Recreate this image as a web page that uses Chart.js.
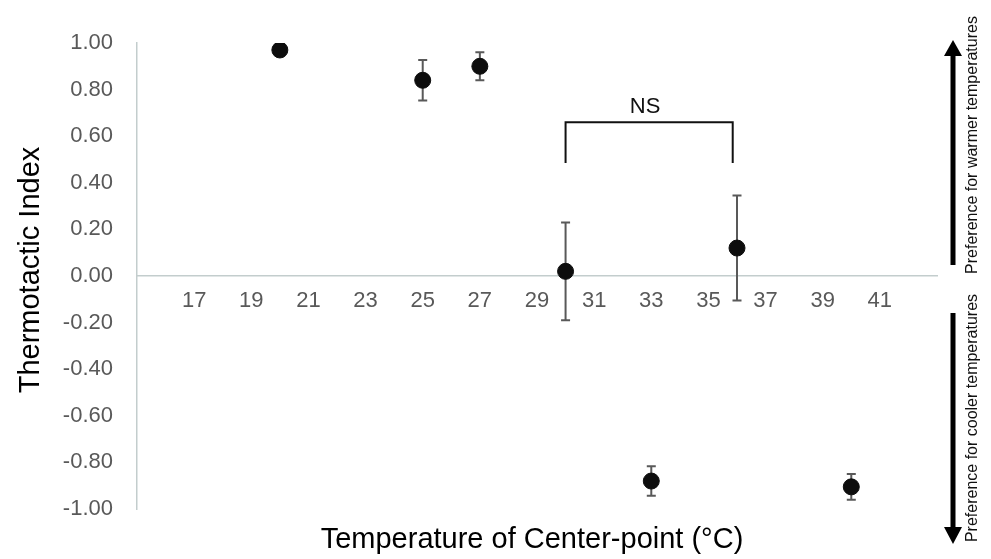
<!DOCTYPE html>
<html>
<head>
<meta charset="utf-8">
<script src="https://cdn.jsdelivr.net/npm/chart.js@4"></script>
<style>
  html, body { margin: 0; padding: 0; background: #fff; }
  #wrap { width: 991px; height: 559px; position: relative; }
</style>
</head>
<body>
<div id="wrap"><canvas id="thermoChart"></canvas></div>
<script>
// Thermotactic index by center-point temperature
const temps = [20, 25, 27, 30, 33, 36, 40];
const indexValues = [0.97, 0.84, 0.90, 0.02, -0.88, 0.12, -0.905];
const errors = [0.01, 0.087, 0.06, 0.21, 0.063, 0.225, 0.055];
const xTicksHidden = [15, 43];
const bracketX = [30, 35.85];
const bracketY = [0.66, 0.485];
const bracketLabel = 'NS';

const FONT = '"Liberation Sans", Arial, sans-serif';
const GRAY = '#595959';
const AXIS = '#c3cdcd';

const errorBars = {
    id: 'errorBars',
    beforeDatasetsDraw(chart) {
        const ctx = chart.ctx;
        const xs = chart.scales.x, ys = chart.scales.y;
        ctx.save();
        ctx.strokeStyle = GRAY;
        ctx.lineWidth = 2;
        temps.forEach((t, i) => {
            const px = xs.getPixelForValue(t);
            const top = ys.getPixelForValue(indexValues[i] + errors[i]);
            const bot = ys.getPixelForValue(indexValues[i] - errors[i]);
            ctx.beginPath();
            ctx.moveTo(px, top); ctx.lineTo(px, bot);
            ctx.moveTo(px - 4.5, top); ctx.lineTo(px + 4.5, top);
            ctx.moveTo(px - 4.5, bot); ctx.lineTo(px + 4.5, bot);
            ctx.stroke();
        });
        ctx.restore();
    }
};

const extras = {
    id: 'extras',
    afterDraw(chart) {
        const ctx = chart.ctx;
        const xs = chart.scales.x, ys = chart.scales.y;
        ctx.save();

        // NS bracket
        const x1 = xs.getPixelForValue(bracketX[0]);
        const x2 = xs.getPixelForValue(bracketX[1]);
        const yTop = ys.getPixelForValue(bracketY[0]);
        const yBot = ys.getPixelForValue(bracketY[1]);
        ctx.strokeStyle = '#111';
        ctx.lineWidth = 2;
        ctx.beginPath();
        ctx.moveTo(x1, yBot); ctx.lineTo(x1, yTop); ctx.lineTo(x2, yTop); ctx.lineTo(x2, yBot);
        ctx.stroke();
        ctx.fillStyle = '#111';
        ctx.font = '22px ' + FONT;
        ctx.textAlign = 'center';
        ctx.textBaseline = 'bottom';
        ctx.fillText(bracketLabel, (x1 + x2) / 2 - 4, yTop - 4);

        // axis titles
        ctx.fillStyle = '#000';
        ctx.font = '29px ' + FONT;
        ctx.textBaseline = 'middle';
        ctx.fillText('Temperature of Center-point (°C)', 532, 540);
        ctx.save();
        ctx.translate(31, 270);
        ctx.rotate(-Math.PI / 2);
        ctx.fillText('Thermotactic Index', 0, 0);
        ctx.restore();

        // preference arrows
        ctx.fillStyle = '#000';
        ctx.strokeStyle = '#000';
        ctx.lineWidth = 5;
        ctx.beginPath();
        ctx.moveTo(953, 265); ctx.lineTo(953, 52);
        ctx.moveTo(953, 313); ctx.lineTo(953, 530);
        ctx.stroke();
        ctx.beginPath();
        ctx.moveTo(953, 40); ctx.lineTo(944, 56); ctx.lineTo(962, 56); ctx.closePath();
        ctx.moveTo(953, 544); ctx.lineTo(944, 527); ctx.lineTo(962, 527); ctx.closePath();
        ctx.fill();

        ctx.font = '16px ' + FONT;
        ctx.fillStyle = '#111';
        ctx.save();
        ctx.translate(973, 145);
        ctx.rotate(-Math.PI / 2);
        ctx.fillText('Preference for warmer temperatures', 0, 0);
        ctx.restore();
        ctx.save();
        ctx.translate(973, 418);
        ctx.rotate(-Math.PI / 2);
        ctx.fillText('Preference for cooler temperatures', 0, 0);
        ctx.restore();

        ctx.restore();
    }
};

new Chart(document.getElementById('thermoChart'), {
    type: 'scatter',
    data: {
        datasets: [{
            data: temps.map((t, i) => ({ x: t, y: indexValues[i] })),
            backgroundColor: '#0d0d0d',
            borderColor: '#0d0d0d',
            pointRadius: 8,
            pointHoverRadius: 8
        }]
    },
    options: {
        responsive: true,
        maintainAspectRatio: false,
        animation: false,
        layout: { padding: { top: 43, bottom: 50, left: 0, right: 54 } },
        plugins: {
            legend: { display: false },
            tooltip: { enabled: false }
        },
        scales: {
            x: {
                type: 'linear',
                min: 15,
                max: 43,
                position: { y: 0 },
                grid: { display: false, drawTicks: false },
                border: { display: true, color: AXIS, width: 1.5 },
                ticks: {
                    stepSize: 2,
                    padding: 12,
                    color: GRAY,
                    font: { size: 22, family: FONT },
                    maxRotation: 0,
                    autoSkip: false,
                    callback: v => xTicksHidden.includes(v) ? '' : v
                }
            },
            y: {
                min: -1,
                max: 1,
                afterFit: s => { s.width = 137; },
                grid: { display: false, drawTicks: false },
                border: { display: true, color: AXIS, width: 1.5 },
                ticks: {
                    stepSize: 0.2,
                    padding: 24,
                    color: GRAY,
                    font: { size: 22, family: FONT },
                    callback: v => Math.abs(v) < 1e-9 ? '0.00' : Number(v).toFixed(2)
                }
            }
        }
    },
    plugins: [errorBars, extras]
});
</script>
</body>
</html>
